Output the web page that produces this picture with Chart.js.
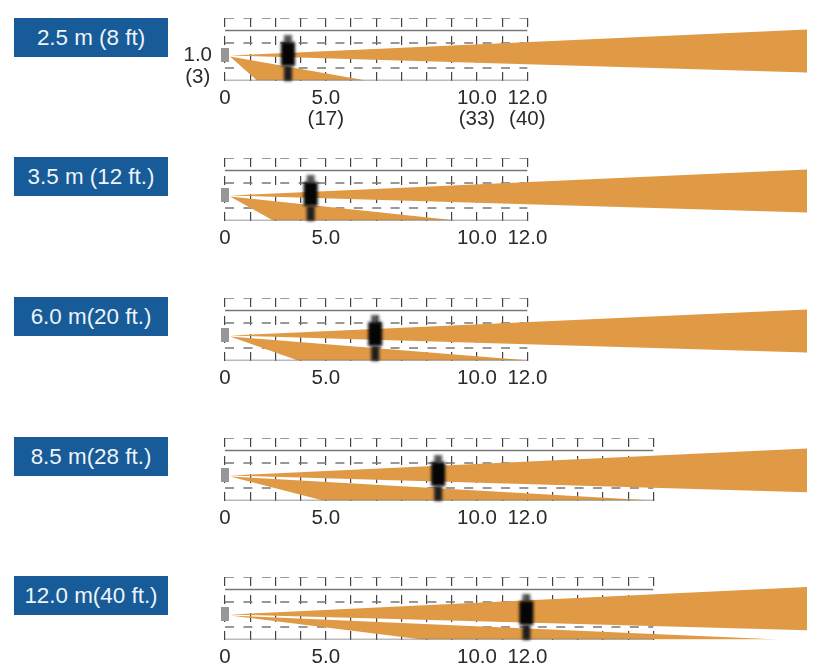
<!DOCTYPE html>
<html lang="en">
<head>
    <meta charset="UTF-8">
    <title>Mounting height coverage</title>
    <script src="https://cdn.jsdelivr.net/npm/chart.js"></script>
    <style>
        html, body { margin: 0; padding: 0; background: #fff; }
        body { width: 820px; height: 670px; overflow: hidden; position: relative; font-family: "Liberation Sans", Arial, sans-serif; }
        canvas { position: absolute; left: 170px; }
        .tag {
            position: absolute;
            left: 14px;
            width: 154px;
            height: 39px;
            line-height: 40px;
            background: #175b98;
            color: #eef4f9;
            font-size: 22.4px;
            text-align: center;
            white-space: nowrap;
        }
    </style>
</head>
<body>
    <script>
        // panel captions and where each panel sits on the page
        const panelLabels = ['2.5 m (8 ft)', '3.5 m (12 ft.)', '6.0 m(20 ft.)', '8.5 m(28 ft.)', '12.0 m(40 ft.)'];
        const panelTops = [18, 158, 298, 438, 577];
        const tagTops = [18, 157, 297, 437, 576];

        // x axis runs in grid divisions
        const gridDivisions = [12, 12, 12, 17, 17];
        const xTickPositions = [0, 4, 10, 12];
        const xTickLabels = ['0', '5.0', '10.0', '12.0'];
        const xTickLabelsFeet = ['', '(17)', '(33)', '(40)'];

        // only the first panel has a height label
        const yTickPositions = [1, 0.14];
        const yTickLabels = ['1.0', '(3)'];

        const personX = [2.5, 3.4, 5.96, 8.46, 11.96];
        const personY = 0.9;

        const sensorY = [0.74, 1.3];
        const tipX = 0.2;
        const tipY = 1;
        const farX = 23.1;

        const upperTop = [2.04, 2.04, 2.04, 2.08, 2.1];
        const upperBottom = [0.32, 0.32, 0.32, 0.33, 0.37];

        const lowerNear = [1.27, 1.91, 2.9, 3.89, 7.83];
        const lowerFar = [5.6, 9.2, 12.1, 17, 22];

        const dashedRows = [0.5, 1.5, 2.5];
        const solidRows = [0, 2];

        const ORANGE = '#e09a45';
        const GRID_GREY = '#777777';

        function makePerson() {
            const c = document.createElement('canvas');
            c.width = 34;
            c.height = 58;
            const g = c.getContext('2d');
            g.filter = 'blur(1.5px)';
            g.fillStyle = '#555';
            g.fillRect(13, 6, 8, 8);
            g.fillStyle = '#050505';
            g.fillRect(10, 13, 14, 24);
            g.fillStyle = '#1e1e1e';
            g.fillRect(13, 37, 8, 15);
            return c;
        }

        const person = makePerson();

        function hLine(y, end, dashed, order) {
            return {
                data: [{ x: 0, y: y }, { x: end, y: y }],
                showLine: true,
                pointRadius: 0,
                borderColor: GRID_GREY,
                borderWidth: dashed ? 1.5 : 1.6,
                borderDash: dashed ? [9, 9.4] : [],
                fill: false,
                order: order
            };
        }

        function wedge(points) {
            return {
                data: points,
                showLine: true,
                pointRadius: 0,
                borderWidth: 0,
                borderColor: ORANGE,
                backgroundColor: ORANGE,
                fill: 'shape',
                order: 3
            };
        }

        panelLabels.forEach(function (label, i) {
            const tag = document.createElement('div');
            tag.className = 'tag';
            tag.style.top = tagTops[i] + 'px';
            tag.textContent = label;
            document.body.appendChild(tag);

            const canvas = document.createElement('canvas');
            canvas.width = 650;
            canvas.height = 130;
            canvas.style.top = (panelTops[i] - 10) + 'px';
            document.body.appendChild(canvas);

            const end = gridDivisions[i];
            const datasets = [];
            dashedRows.forEach(y => datasets.push(hLine(y, end, true, 4)));
            datasets.push(wedge([
                { x: tipX, y: tipY },
                { x: farX, y: upperTop[i] },
                { x: farX, y: upperBottom[i] }
            ]));
            datasets.push(wedge([
                { x: tipX, y: tipY - 0.04 },
                { x: lowerFar[i], y: 0 },
                { x: lowerNear[i], y: 0 }
            ]));
            solidRows.forEach(y => datasets.push(hLine(y, end, false, 2)));
            datasets.push({
                data: [{ x: 0, y: sensorY[0] }, { x: 0, y: sensorY[1] }],
                showLine: true,
                pointRadius: 0,
                borderColor: '#979797',
                borderWidth: 8,
                clip: false,
                order: 1
            });
            datasets.push({
                data: [{ x: personX[i], y: personY }],
                pointStyle: person,
                pointRadius: 10,
                clip: false,
                order: 0
            });

            new Chart(canvas.getContext('2d'), {
                type: 'scatter',
                data: { datasets: datasets },
                options: {
                    responsive: false,
                    animation: false,
                    devicePixelRatio: 1,
                    layout: { autoPadding: false, padding: { top: 10, right: 13, left: 0, bottom: 0 } },
                    plugins: { legend: { display: false }, tooltip: { enabled: false } },
                    scales: {
                        x: {
                            type: 'linear',
                            min: 0,
                            max: farX,
                            afterFit: s => { s.height = 57.5; },
                            afterBuildTicks: s => {
                                const ticks = [];
                                for (let v = 0; v <= end; v++) ticks.push({ value: v });
                                s.ticks = ticks;
                            },
                            grid: { color: '#444', lineWidth: 1.2, drawTicks: false },
                            border: { display: false, dash: [9, 9] },
                            ticks: {
                                autoSkip: false,
                                maxRotation: 0,
                                padding: 7,
                                color: '#2b2b2b',
                                font: { family: '"Liberation Sans"', size: 20.5, lineHeight: 1.05 },
                                callback: function (v) {
                                    const k = xTickPositions.indexOf(v);
                                    if (k < 0) return '';
                                    return i === 0 && xTickLabelsFeet[k] ? [xTickLabels[k], xTickLabelsFeet[k]] : xTickLabels[k];
                                }
                            }
                        },
                        y: {
                            type: 'linear',
                            min: 0,
                            max: 2.5,
                            // the tick labels must not push the plot area down in the first panel
                            afterFit: s => { s.width = 55; s.paddingTop = 0; s.paddingBottom = 0; },
                            afterBuildTicks: s => {
                                s.ticks = i === 0 ? yTickPositions.map(v => ({ value: v })) : [];
                            },
                            grid: { display: false, drawTicks: false },
                            border: { display: false },
                            ticks: {
                                autoSkip: false,
                                padding: 13,
                                crossAlign: 'center',
                                color: '#2b2b2b',
                                font: { family: '"Liberation Sans"', size: 20.5 },
                                callback: v => yTickLabels[yTickPositions.indexOf(v)]
                            }
                        }
                    }
                }
            });
        });
    </script>
</body>
</html>
